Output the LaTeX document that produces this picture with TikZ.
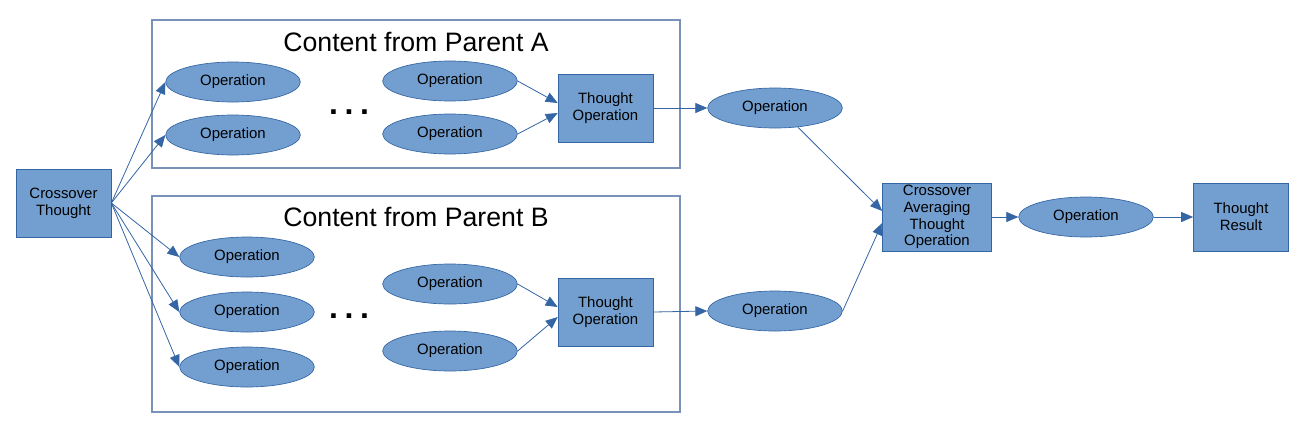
\documentclass[tikz,border=0pt]{standalone}
\usepackage{fontspec}
\setmainfont{Liberation Sans}
\usetikzlibrary{arrows.meta,shapes.geometric,calc}
\definecolor{fillblue}{RGB}{114,159,207}
\definecolor{edgeblue}{RGB}{52,101,164}
\definecolor{framec}{RGB}{120,145,185}
\begin{document}
\begin{tikzpicture}[x=0.75pt,y=-0.75pt,
  txt/.style={font=\fontsize{11.2}{12.6}\selectfont, align=center, text=black},
  opnode/.style={ellipse, txt, draw=edgeblue, fill=fillblue, line width=0.5pt, minimum width=101pt, minimum height=30pt, inner sep=0pt},
  boxnode/.style={rectangle, txt, draw=edgeblue, fill=fillblue, line width=0.5pt, minimum width=71.25pt, minimum height=51pt, inner sep=1pt},
  frame/.style={draw=framec, line width=0.8pt},
  conn/.style={draw=edgeblue, line width=0.6pt, -{Triangle[length=9pt,width=7.5pt]}},
  title/.style={font=\fontsize{20}{24}\selectfont, text=black},
  dots/.style={font=\fontsize{24}{24}\selectfont\bfseries, text=black}
]
\useasboundingbox (0,0) rectangle (1309,436);
% frames
\draw[frame] (152,20) rectangle (680,168);
\draw[frame] (152,196) rectangle (680,412);
\node[title] (ta) at (416,42) {Content from Parent A};
\node[title] (tb) at (416,217) {Content from Parent B};
\node[dots] (da) at (349,112) {.\hspace{5pt}.\hspace{5pt}.};
\node[dots] (db) at (349,316) {.\hspace{5pt}.\hspace{5pt}.};
% nodes
\node[boxnode] (ct) at (63.5,203) {Crossover\\Thought};
\node[opnode] (a1) at (233,82) {Operation};
\node[opnode] (a2) at (233,135) {Operation};
\node[opnode] (a3) at (450,81) {Operation};
\node[opnode] (a4) at (450,134) {Operation};
\node[boxnode] (toa) at (605.5,108) {Thought\\Operation};
\node[opnode] (oa) at (775,108) {Operation};
\node[opnode] (b1) at (247,257) {Operation};
\node[opnode] (b2) at (247,312) {Operation};
\node[opnode] (b3) at (247,367) {Operation};
\node[opnode] (b4) at (450,284) {Operation};
\node[opnode] (b5) at (450,351) {Operation};
\node[boxnode] (tob) at (605.5,312) {Thought\\Operation};
\node[opnode] (ob) at (775,311) {Operation};
\node[boxnode, minimum width=81.75pt] (cat) at (937,217) {Crossover\\Averaging\\Thought\\Operation};
\node[opnode] (of) at (1086,217) {Operation};
\node[boxnode] (tr) at (1241,217) {Thought\\Result};
% connectors
\foreach \t in {a1,a2,b1,b2,b3} \draw[conn] (ct.east) -- (\t.west);
\draw[conn] (a3.east) -- ($(toa.west)+(0,-5)$);
\draw[conn] (a4.east) -- ($(toa.west)+(0,5)$);
\draw[conn] (b4.east) -- ($(tob.west)+(0,-5)$);
\draw[conn] (b5.east) -- ($(tob.west)+(0,5)$);
\draw[conn] (toa.east) -- (oa.west);
\draw[conn] (tob.east) -- (ob.west);
\draw[conn] (oa.-40) -- ($(cat.west)+(0,-6)$);
\draw[conn] (ob.east) -- ($(cat.west)+(0,6)$);
\draw[conn] (cat.east) -- (of.west);
\draw[conn] (of.east) -- (tr.west);
\end{tikzpicture}
\end{document}
